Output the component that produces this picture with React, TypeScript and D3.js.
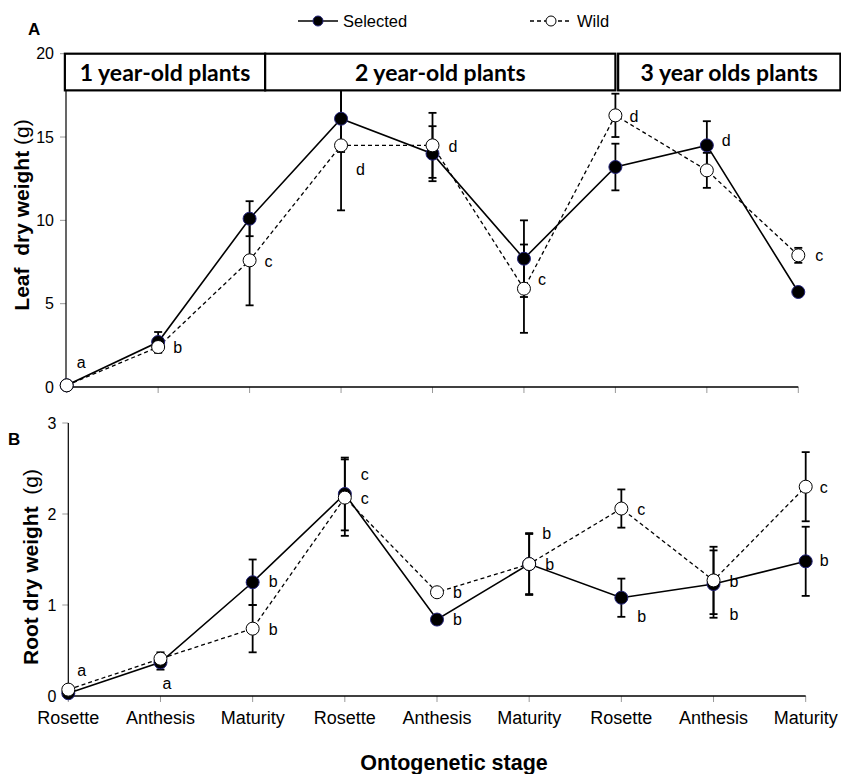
import * as d3 from "d3";

const stages = ["Rosette", "Anthesis", "Maturity", "Rosette", "Anthesis", "Maturity", "Rosette", "Anthesis", "Maturity"];
const ageGroups = ["1 year-old plants", "2 year-old plants", "3 year olds plants"];
const seriesNames = ["Selected", "Wild"];

// Panel A: leaf dry weight (g)
const leafSelected = [0.1, 2.7, 10.1, 16.1, 14.0, 7.7, 13.2, 14.5, 5.7];
const leafSelectedErr = [0.05, 0.6, 1.05, 2.0, 1.65, 2.3, 1.4, 1.45, 0.2];
const leafWild = [0.1, 2.4, 7.6, 14.5, 14.5, 5.9, 16.3, 13.0, 7.9];
const leafWildErr = [0.05, 0.35, 2.7, 3.9, 1.95, 2.65, 1.3, 1.05, 0.45];
const leafLetters = ["a", "b", "c", "d", "d", "c", "d", "d", "c"];
const leafLetterAt = [1.14, 2.04, 7.2, 12.7, 14.1, 6.1, 15.9, 14.45, 7.55];

// Panel B: root dry weight (g)
const rootSelected = [0.03, 0.37, 1.25, 2.22, 0.84, 1.45, 1.08, 1.23, 1.48];
const rootSelectedErr = [0.02, 0.08, 0.25, 0.4, 0.05, 0.33, 0.21, 0.37, 0.38];
const rootWild = [0.07, 0.41, 0.74, 2.18, 1.14, 1.45, 2.06, 1.27, 2.3];
const rootWildErr = [0.02, 0.07, 0.26, 0.42, 0.04, 0.34, 0.21, 0.37, 0.38];
const rootLetterStage = [0, 1, 2, 2, 3, 3, 4, 4, 5, 5, 6, 6, 7, 7, 8, 8];
const rootLetterAt = [0.22, 0.08, 1.2, 0.67, 2.37, 2.11, 1.08, 0.78, 1.73, 1.38, 1.99, 0.81, 1.2, 0.84, 2.23, 1.43];
const rootLetters = ["a", "a", "b", "b", "c", "c", "b", "b", "b", "b", "c", "b", "b", "b", "c", "b"];

const W = 841;
const H = 774;
const font = "'Liberation Sans', Arial, sans-serif";
const selFill = "#000";
const selStroke = "#23237a";

// label nudges (pixels)
const leafLetterDx = [10, 15, 15, 15, 16, 14, 14, 15, 17];
const rootLetterDx = [9, 2, 16, 16, 16, 16, 16, 16, 13, 16, 16, 16, 16, 16, 14, 14];
// header box edges in stage units
const boxEdges = [-0.02, 2.17, 6.03];
const boxEdges2 = [2.17, 6.0, 8.46];

function Series({ x, y, vals, wild }: any) {
  const line = d3
    .line<number>()
    .x((_, i) => x(i))
    .y((d) => y(d));
  return (
    <path
      d={line(vals) || ""}
      fill="none"
      stroke="#000"
      strokeWidth={wild ? 1.3 : 1.6}
      strokeDasharray={wild ? "4 3" : undefined}
    />
  );
}

function ErrBars({ x, y, vals, errs }: any) {
  return (
    <g stroke="#000" strokeWidth={1.8}>
      {vals.map((v: number, i: number) => {
        const cx = x(i);
        const hi = y(v + errs[i]);
        const lo = y(v - errs[i]);
        return (
          <g key={i}>
            <line x1={cx} x2={cx} y1={hi} y2={lo} />
            <line x1={cx - 4} x2={cx + 4} y1={hi} y2={hi} />
            <line x1={cx - 4} x2={cx + 4} y1={lo} y2={lo} />
          </g>
        );
      })}
    </g>
  );
}

function Markers({ x, y, vals, wild }: any) {
  return (
    <g>
      {vals.map((v: number, i: number) => (
        <circle
          key={i}
          cx={x(i)}
          cy={y(v)}
          r={6.5}
          fill={wild ? "#fff" : selFill}
          stroke={wild ? "#000" : selStroke}
          strokeWidth={1}
        />
      ))}
    </g>
  );
}

function Axes({ x, y, ticks, x0, x1, y0, y1 }: any) {
  return (
    <g fontFamily={font} fontSize={16}>
      {d3.range(stages.length).map((i) => (
        <line key={"xt" + i} x1={x(i)} x2={x(i)} y1={y0} y2={y0 + 6} stroke="#999" strokeWidth={1} />
      ))}
      {ticks.map((t: number) => (
        <g key={"yt" + t}>
          <line x1={x0 - 6} x2={x0} y1={y(t)} y2={y(t)} stroke="#999" strokeWidth={1} />
          <text x={x0 - 12} y={y(t)} textAnchor="end" dominantBaseline="central">
            {t}
          </text>
        </g>
      ))}
      <line x1={x0} x2={x0} y1={y0} y2={y1} stroke="#000" strokeWidth={1.2} />
      <line x1={x0} x2={x1} y1={y0} y2={y0} stroke="#000" strokeWidth={1.6} />
    </g>
  );
}

export default function App() {
  const xTop = d3.scaleLinear().domain([0, 8]).range([66.7, 798.3]);
  const yTop = d3.scaleLinear().domain([0, 20]).range([387, 53.7]);
  const xBot = d3.scaleLinear().domain([0, 8]).range([68.3, 805.7]);
  const yBot = d3.scaleLinear().domain([0, 3]).range([696, 423]);

  return (
    <svg
      width={W}
      height={H}
      viewBox={`0 0 ${W} ${H}`}
      style={{ position: "absolute", left: 0, top: 0, background: "#fff" }}
    >
      <rect width={W} height={H} fill="#fff" />

      {/* legend */}
      <g fontFamily={font} fontSize={16.5}>
        <line x1={298} x2={338} y1={21} y2={21} stroke="#000" strokeWidth={1.6} />
        <circle cx={318} cy={21} r={5} fill={selFill} stroke={selStroke} />
        <text x={343} y={27}>{seriesNames[0]}</text>
        <line x1={530} x2={572} y1={21} y2={21} stroke="#000" strokeWidth={1.3} strokeDasharray="4 3" />
        <circle cx={551} cy={21} r={5} fill="#fff" stroke="#000" />
        <text x={577} y={27}>{seriesNames[1]}</text>
      </g>

      {/* panel A */}
      <text x={28} y={35} fontFamily={font} fontWeight="bold" fontSize={17}>A</text>
      <Axes x={xTop} y={yTop} ticks={[0, 5, 10, 15, 20]} x0={66} x1={798.3} y0={387} y1={91} />
      <Series x={xTop} y={yTop} vals={leafSelected} />
      <Series x={xTop} y={yTop} vals={leafWild} wild />
      <ErrBars x={xTop} y={yTop} vals={leafSelected} errs={leafSelectedErr} />
      <ErrBars x={xTop} y={yTop} vals={leafWild} errs={leafWildErr} />
      <Markers x={xTop} y={yTop} vals={leafSelected} />
      <Markers x={xTop} y={yTop} vals={leafWild} wild />
      <g fontFamily={font} fontSize={16}>
        {leafLetters.map((t, i) => (
          <text key={i} x={xTop(i) + leafLetterDx[i]} y={yTop(leafLetterAt[i])}>
            {t}
          </text>
        ))}
      </g>
      {/* age group header */}
      <g>
        {ageGroups.map((g, i) => {
          const xa = xTop(boxEdges[i]);
          const xb = xTop(boxEdges2[i]);
          const ya = yTop(20);
          const yb = yTop(17.8);
          return (
            <g key={g}>
              <rect x={xa} y={ya} width={xb - xa} height={yb - ya} fill="#fff" stroke="#000" strokeWidth={2.2} />
              <text
                x={(xa + xb) / 2}
                y={(ya + yb) / 2 + 8.5}
                textAnchor="middle"
                fontFamily="Lato, 'Open Sans', sans-serif"
                fontWeight="bold"
                fontSize={23}
              >
                {g}
              </text>
            </g>
          );
        })}
      </g>
      <text
        transform="translate(29,215) rotate(-90)"
        textAnchor="middle"
        fontFamily={font}
        fontSize={21}
        fontWeight="bold"
        style={{ whiteSpace: "pre" }}
      >
        {"Leaf  dry weight "}
        <tspan fontWeight="normal">(g)</tspan>
      </text>

      {/* panel B */}
      <text x={8} y={445} fontFamily={font} fontWeight="bold" fontSize={17}>B</text>
      <Axes x={xBot} y={yBot} ticks={[0, 1, 2, 3]} x0={68.3} x1={805.7} y0={696} y1={423} />
      <Series x={xBot} y={yBot} vals={rootSelected} />
      <Series x={xBot} y={yBot} vals={rootWild} wild />
      <ErrBars x={xBot} y={yBot} vals={rootSelected} errs={rootSelectedErr} />
      <ErrBars x={xBot} y={yBot} vals={rootWild} errs={rootWildErr} />
      <Markers x={xBot} y={yBot} vals={rootSelected} />
      <Markers x={xBot} y={yBot} vals={rootWild} wild />
      <g fontFamily={font} fontSize={16}>
        {rootLetters.map((t, i) => (
          <text key={i} x={xBot(rootLetterStage[i]) + rootLetterDx[i]} y={yBot(rootLetterAt[i])}>
            {t}
          </text>
        ))}
      </g>
      <text
        transform="translate(38,567) rotate(-90)"
        textAnchor="middle"
        fontFamily={font}
        fontSize={21}
        fontWeight="bold"
        style={{ whiteSpace: "pre" }}
      >
        {"Root dry weight  "}
        <tspan fontWeight="normal">(g)</tspan>
      </text>

      {/* x labels */}
      <g fontFamily={font} fontSize={18}>
        {stages.map((s, i) => (
          <text key={i} x={xBot(i)} y={724} textAnchor="middle">
            {s}
          </text>
        ))}
      </g>
      <text x={454} y={770} textAnchor="middle" fontFamily={font} fontSize={21.5} fontWeight="bold">
        Ontogenetic stage
      </text>
    </svg>
  );
}
